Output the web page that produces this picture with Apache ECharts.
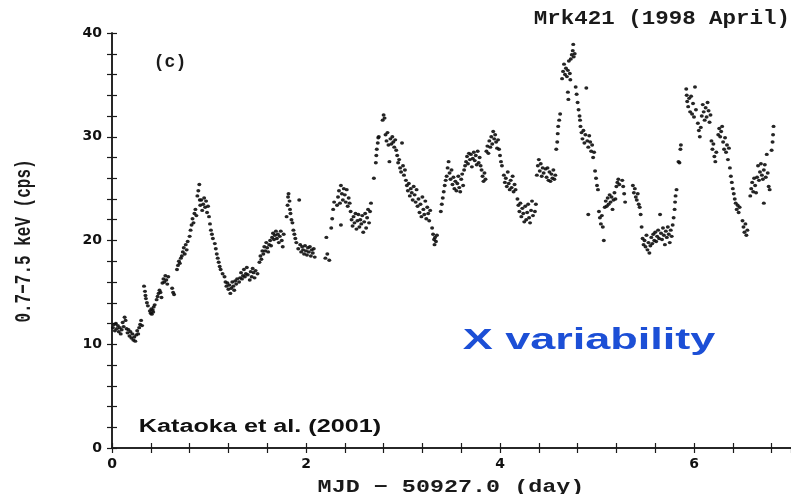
<!DOCTYPE html>
<html>
<head>
<meta charset="utf-8">
<script src="https://cdn.jsdelivr.net/npm/echarts@6/dist/echarts.min.js"></script>
<style>
  html, body { margin: 0; padding: 0; background: #fff; }
  #chart { width: 791px; height: 494px; }
</style>
</head>
<body>
<div id="chart"></div>
<script>
// Mrk421 light curve, 0.7-7.5 keV count rate versus time since MJD 50927.0
const days = [
  0.01,0.02,0.03,0.04,0.05,0.06,0.07,0.08,0.09,0.10,
  0.11,0.12,0.13,0.14,0.15,0.16,0.17,0.18,0.19,0.20,
  0.21,0.22,0.23,0.24,0.25,0.26,0.27,0.28,0.29,0.30,
  0.31,0.33,0.34,0.345,0.35,0.36,0.37,0.39,0.40,0.405,
  0.41,0.42,0.425,0.43,0.44,0.46,0.47,0.48,0.49,0.50,
  0.51,0.52,0.53,0.54,0.55,0.56,0.57,0.58,0.62,0.63,
  0.64,0.67,0.68,0.69,0.70,0.71,0.72,0.73,0.74,0.75,
  0.76,0.77,0.78,0.80,0.81,0.82,0.83,0.84,0.85,0.86,
  0.87,0.88,0.89,0.90,0.905,0.91,0.92,0.93,0.94,0.95,
  0.96,0.97,0.98,0.99,1.00,1.01,1.02,1.03,1.04,1.06,
  1.07,1.08,1.09,1.10,1.11,1.12,1.14,1.16,1.17,1.18,
  1.19,1.20,1.21,1.22,1.23,1.24,1.25,1.26,1.27,1.28,
  1.29,1.31,1.32,1.33,1.34,1.35,1.36,1.37,1.38,1.39,
  1.40,1.42,1.43,1.44,1.45,1.46,1.47,1.48,1.50,1.52,
  1.53,1.54,1.55,1.56,1.57,1.58,1.59,1.60,1.61,1.62,
  1.63,1.64,1.65,1.66,1.67,1.68,1.69,1.70,1.71,1.72,
  1.73,1.74,1.75,1.76,1.77,1.80,1.81,1.815,1.82,1.83,
  1.835,1.84,1.85,1.86,1.87,1.88,1.89,1.90,1.92,1.93,
  1.94,1.95,1.96,1.97,1.98,1.99,2.00,2.01,2.02,2.03,
  2.04,2.05,2.06,2.07,2.08,2.09,2.20,2.21,2.22,2.24,
  2.26,2.27,2.28,2.29,2.32,2.33,2.34,2.35,2.36,2.36,
  2.37,2.38,2.39,2.40,2.41,2.42,2.43,2.44,2.45,2.46,
  2.47,2.48,2.49,2.50,2.51,2.52,2.53,2.54,2.55,2.56,
  2.57,2.58,2.59,2.60,2.61,2.62,2.63,2.64,2.65,2.66,
  2.67,2.70,2.72,2.725,2.73,2.74,2.745,2.75,2.79,2.80,
  2.81,2.82,2.83,2.84,2.85,2.86,2.87,2.88,2.89,2.90,
  2.91,2.92,2.93,2.94,2.95,2.96,2.97,2.98,2.99,3.00,
  3.01,3.02,3.03,3.04,3.05,3.06,3.07,3.08,3.09,3.10,
  3.11,3.12,3.13,3.14,3.15,3.16,3.17,3.18,3.19,3.20,
  3.21,3.22,3.23,3.24,3.25,3.26,3.27,3.28,3.30,3.31,
  3.32,3.325,3.33,3.34,3.35,3.39,3.40,3.41,3.42,3.43,
  3.44,3.45,3.46,3.47,3.48,3.49,3.50,3.51,3.52,3.53,
  3.54,3.55,3.56,3.57,3.58,3.59,3.60,3.61,3.62,3.63,
  3.64,3.65,3.66,3.67,3.68,3.69,3.70,3.71,3.72,3.73,
  3.74,3.75,3.76,3.77,3.78,3.79,3.80,3.81,3.82,3.83,
  3.84,3.85,3.86,3.87,3.88,3.89,3.90,3.91,3.92,3.93,
  3.94,3.95,3.96,3.97,3.98,3.99,4.00,4.01,4.02,4.04,
  4.05,4.06,4.07,4.08,4.09,4.10,4.11,4.12,4.13,4.14,
  4.15,4.16,4.18,4.19,4.20,4.21,4.22,4.23,4.24,4.25,
  4.26,4.27,4.28,4.29,4.30,4.31,4.32,4.33,4.34,4.36,
  4.37,4.38,4.39,4.40,4.41,4.42,4.43,4.44,4.45,4.47,
  4.48,4.49,4.50,4.51,4.52,4.53,4.54,4.55,4.56,4.57,
  4.58,4.59,4.595,4.60,4.61,4.62,4.64,4.65,4.66,4.67,
  4.68,4.69,4.70,4.70,4.705,4.71,4.72,4.725,4.73,4.74,
  4.75,4.755,4.76,4.77,4.78,4.79,4.80,4.81,4.82,4.825,
  4.83,4.84,4.85,4.86,4.87,4.88,4.89,4.90,4.91,4.91,
  4.92,4.93,4.94,4.95,4.96,4.97,4.98,4.99,5.00,5.01,
  5.02,5.03,5.04,5.05,5.06,5.07,5.08,5.09,5.10,5.11,
  5.12,5.13,5.14,5.15,5.16,5.17,5.18,5.19,5.20,5.21,
  5.22,5.23,5.26,5.27,5.28,5.29,5.37,5.38,5.39,5.40,
  5.41,5.42,5.43,5.44,5.45,5.46,5.47,5.48,5.49,5.50,
  5.51,5.52,5.53,5.54,5.55,5.56,5.57,5.58,5.59,5.60,
  5.61,5.62,5.63,5.64,5.65,5.66,5.67,5.68,5.69,5.70,
  5.71,5.72,5.73,5.74,5.75,5.76,5.77,5.78,5.79,5.80,
  5.805,5.81,5.82,5.84,5.85,5.86,5.865,5.92,5.925,5.93,
  5.94,5.95,5.96,5.97,5.98,5.99,6.00,6.01,6.02,6.04,
  6.05,6.06,6.07,6.08,6.09,6.10,6.11,6.12,6.13,6.14,
  6.15,6.16,6.17,6.18,6.19,6.20,6.21,6.22,6.23,6.25,
  6.26,6.27,6.28,6.29,6.30,6.31,6.32,6.33,6.34,6.35,
  6.36,6.37,6.38,6.39,6.40,6.41,6.42,6.43,6.44,6.45,
  6.46,6.47,6.50,6.51,6.52,6.53,6.54,6.55,6.58,6.59,
  6.60,6.61,6.62,6.63,6.64,6.65,6.66,6.67,6.68,6.69,
  6.70,6.71,6.72,6.73,6.74,6.75,6.76,6.77,6.78,6.72,
  6.80,6.81,6.815,6.82
];

const rates = [
  11.6,11.9,11.3,12.0,11.5,11.8,11.2,11.6,11.0,11.4,
  12.1,11.7,12.6,12.3,11.5,11.1,11.4,10.8,11.2,10.6,
  11.0,10.4,10.7,10.3,10.9,11.3,11.0,11.6,11.9,12.3,
  11.8,15.6,15.1,14.7,14.4,14.0,13.7,13.2,13.0,13.4,
  12.9,13.3,13.1,13.6,13.8,14.3,14.6,14.9,15.2,15.0,
  14.5,15.9,16.3,16.0,16.6,16.2,15.8,16.5,15.4,15.0,
  14.8,17.2,17.6,18.0,17.8,18.3,18.5,18.9,19.3,18.7,
  19.6,19.1,19.9,20.4,21.0,21.5,22.1,21.7,22.6,23.0,
  22.4,24.3,24.8,25.4,23.9,23.4,23.9,22.9,23.5,24.1,
  23.2,23.8,22.7,23.3,22.3,21.6,21.0,20.6,20.2,19.7,
  19.2,18.7,18.3,17.9,17.5,17.2,16.8,16.5,16.0,15.6,
  15.9,15.3,15.7,14.9,15.4,16.0,15.6,15.2,16.1,15.8,
  16.3,16.0,16.4,16.9,16.3,16.6,17.2,16.5,16.8,17.4,
  16.7,16.2,17.0,16.5,17.3,16.9,16.4,17.1,16.8,17.9,
  18.5,18.2,19.0,18.7,19.4,19.0,19.8,19.3,18.9,19.6,
  20.0,19.5,20.3,20.7,20.1,20.5,20.9,20.2,20.6,19.8,
  20.4,20.9,20.0,19.4,20.6,22.3,23.4,24.2,24.5,23.8,
  23.0,22.6,22.0,21.7,21.0,20.6,20.2,19.8,19.2,23.9,
  19.6,18.9,19.4,19.1,18.7,19.5,19.0,18.6,19.3,18.9,
  19.4,18.5,19.1,18.8,19.2,18.4,18.3,20.3,18.7,18.1,
  21.2,22.1,23.0,23.7,23.4,24.2,24.8,23.6,25.3,21.5,
  24.5,23.9,25.0,24.4,23.7,24.9,23.3,24.1,23.6,22.8,
  22.0,21.4,22.3,21.7,22.6,21.1,21.9,22.5,21.3,22.0,
  21.6,22.4,20.8,21.8,22.6,21.2,22.2,23.0,21.7,22.8,
  23.6,26.0,27.5,28.2,28.8,29.4,29.9,30.0,31.6,32.1,
  31.8,30.2,29.6,30.4,29.2,27.6,29.8,29.3,30.0,29.5,
  29.0,29.7,28.7,28.2,27.5,27.8,27.0,26.6,29.4,27.2,
  26.3,26.8,25.8,25.3,24.8,25.5,24.3,25.0,24.6,23.9,
  25.2,24.4,23.7,24.9,23.3,24.0,22.7,23.5,22.3,24.2,
  23.0,22.5,23.8,22.1,23.2,22.6,21.9,22.9,21.2,20.6,
  20.1,19.6,20.3,19.9,20.5,22.8,23.5,24.1,24.7,25.3,
  25.8,26.2,27.0,27.6,26.5,25.9,26.8,25.4,26.1,25.0,
  25.7,24.8,25.5,26.2,25.1,24.7,25.9,26.4,25.3,26.8,
  27.2,27.6,28.1,27.4,28.4,27.8,28.3,27.1,27.9,28.5,
  27.7,28.2,27.3,28.6,27.5,28.0,27.2,26.8,26.2,25.7,
  26.5,25.9,28.6,29.1,28.4,29.6,29.0,30.0,29.3,30.5,
  29.8,30.2,29.5,28.9,29.7,28.8,28.2,27.6,27.2,26.3,
  25.6,26.0,25.2,26.6,25.5,24.9,25.8,25.1,26.2,24.7,
  25.4,24.9,24.0,23.4,22.8,23.6,22.3,23.1,22.6,21.8,
  23.3,22.0,22.7,23.5,22.2,21.7,22.9,23.8,22.4,22.8,
  23.5,26.3,27.2,27.8,26.7,27.4,26.2,27.0,26.5,26.9,
  26.1,27.0,25.8,26.6,25.7,26.4,26.0,26.8,25.9,26.3,
  28.8,29.5,30.3,31.0,31.6,32.2,35.6,36.3,37.0,36.0,
  36.6,35.8,36.4,34.3,33.6,37.3,36.1,35.5,37.5,37.9,
  38.3,38.9,37.7,38.0,34.8,34.1,33.3,32.6,32.0,31.6,
  31.0,30.4,29.8,30.6,29.4,30.2,34.7,29.6,29.0,22.5,
  30.1,29.5,28.6,29.2,28.0,28.5,26.7,26.0,25.3,24.9,
  22.8,22.2,21.6,22.4,21.3,20.0,23.2,23.8,23.3,24.1,
  23.5,24.4,23.7,24.2,23.0,23.9,24.6,24.0,25.2,25.6,
  25.9,25.4,25.8,25.2,24.5,23.7,25.3,24.6,25.0,24.2,
  23.9,24.5,23.5,23.2,22.5,21.3,20.2,19.6,20.0,19.4,
  20.5,19.1,19.8,18.8,19.5,20.3,19.7,20.6,20.0,20.8,
  19.9,20.4,21.0,20.2,22.5,20.7,20.1,21.2,20.5,19.6,
  20.9,20.3,21.3,20.6,19.8,21.0,20.4,21.5,22.2,23.0,
  23.7,24.3,24.9,27.6,27.5,28.8,29.2,34.6,34.0,33.4,
  32.9,33.7,32.4,33.9,32.2,33.2,31.9,34.8,32.6,31.3,
  30.6,30.0,30.9,32.0,33.1,32.4,31.6,32.8,31.9,33.3,
  32.5,31.4,32.1,29.6,28.8,29.3,28.1,27.6,28.5,30.2,
  30.8,30.0,30.5,31.0,29.5,28.8,29.9,28.5,29.2,27.8,
  28.9,27.0,26.2,25.6,25.0,24.5,24.0,23.6,23.0,23.4,
  22.7,23.2,21.9,21.3,20.8,21.6,20.5,21.0,24.3,25.0,
  25.6,24.7,26.0,25.3,24.6,26.1,27.2,25.8,26.6,27.4,
  26.3,25.9,26.8,27.3,26.1,28.3,26.5,25.2,24.9,23.6,
  28.7,29.5,30.2,31.0
];

// axis ranges and labelled tick values
const xRange = [0, 7];
const yRange = [0, 40];
const xLabelValues = [0, 2, 4, 6];
const yLabelValues = [0, 10, 20, 30, 40];

const points = days.map((d, i) => [d, rates[i]]);

const chart = echarts.init(document.getElementById('chart'));

const axisLine = { show: true, lineStyle: { color: '#1a1a1a', width: 1.5 } };
const tickStyle = { color: '#1a1a1a', width: 1.2 };
const tickFont = { color: '#111', fontFamily: 'DejaVu Sans', fontWeight: 'bold', fontSize: 14 };

const onTick = (vals) => (v) => {
  const r = Math.round(v * 100) / 100;
  return vals.indexOf(r) >= 0 ? String(r) : '';
};

chart.setOption({
  animation: false,
  backgroundColor: '#fff',
  grid: { left: 112, top: 33, width: 681, height: 415, containLabel: false },
  xAxis: [
    {
      type: 'value', min: xRange[0], max: xRange[1], interval: 0.4, position: 'bottom',
      axisLine: axisLine,
      axisTick: { show: true, inside: true, length: 5, lineStyle: tickStyle },
      axisLabel: Object.assign({ margin: 9, formatter: onTick(xLabelValues), showMaxLabel: false }, tickFont),
      splitLine: { show: false }
    },
    {
      type: 'value', min: xRange[0], max: xRange[1], interval: 0.4, position: 'top',
      axisLine: axisLine,
      axisTick: { show: true, inside: true, length: 5, lineStyle: tickStyle },
      axisLabel: { show: false },
      splitLine: { show: false }
    }
  ],
  yAxis: [
    {
      type: 'value', min: yRange[0], max: yRange[1], interval: 2, position: 'left',
      axisLine: axisLine,
      axisTick: { show: true, inside: true, length: 5, lineStyle: tickStyle },
      axisLabel: Object.assign({ margin: 10, formatter: onTick(yLabelValues) }, tickFont),
      splitLine: { show: false }
    },
    {
      type: 'value', min: yRange[0], max: yRange[1], interval: 2, position: 'right',
      axisLine: axisLine,
      axisTick: { show: true, inside: true, length: 5, lineStyle: tickStyle },
      axisLabel: { show: false },
      splitLine: { show: false }
    }
  ],
  series: [{
    type: 'scatter',
    xAxisIndex: 0,
    yAxisIndex: 0,
    data: points,
    symbol: 'circle',
    symbolSize: [4, 3.4],
    itemStyle: { color: '#0d0d0d', opacity: 0.9 },
    silent: true
  }],
  graphic: [
    {
      type: 'text', x: 790, y: 19, scaleX: 1.07,
      style: { text: 'Mrk421 (1998 April)', font: 'bold 21px "Liberation Mono"', fill: '#1a1a1a',
               textAlign: 'right', textVerticalAlign: 'middle' }
    },
    {
      type: 'text', x: 451, y: 487, scaleX: 1.3,
      style: { text: 'MJD \u2212 50927.0 (day)', font: 'bold 18px "Liberation Mono"', fill: '#1a1a1a',
               textAlign: 'center', textVerticalAlign: 'middle' }
    },
    {
      type: 'text', x: 24, y: 241, rotation: Math.PI / 2, scaleY: 1.4,
      style: { text: '0.7\u22127.5 keV (cps)', font: 'bold 16px "Liberation Mono"', fill: '#1a1a1a',
               textAlign: 'center', textVerticalAlign: 'middle' }
    },
    {
      type: 'text', x: 170, y: 62,
      style: { text: '(c)', font: 'bold 18px "Liberation Mono"', fill: '#1a1a1a',
               textAlign: 'center', textVerticalAlign: 'middle' }
    },
    {
      type: 'text', x: 589, y: 341, scaleX: 1.5,
      style: { text: 'X variability', font: 'bold 30px "Liberation Sans"', fill: '#1c4fd6',
               textAlign: 'center', textVerticalAlign: 'middle' }
    },
    {
      type: 'text', x: 260, y: 427, scaleX: 1.4,
      style: { text: 'Kataoka et al. (2001)', font: 'bold 18px "Liberation Sans"', fill: '#111',
               textAlign: 'center', textVerticalAlign: 'middle' }
    }
  ]
});
</script>
</body>
</html>
